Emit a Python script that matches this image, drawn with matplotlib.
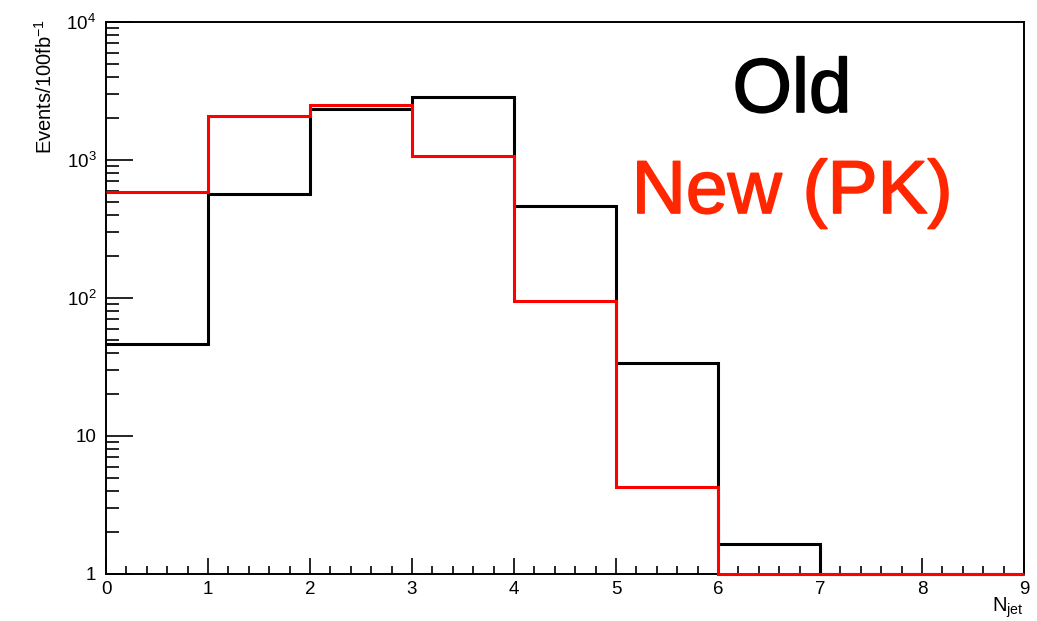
import numpy as np
import matplotlib
matplotlib.use("Agg")
import matplotlib.pyplot as plt
import matplotlib.patheffects as pe
from matplotlib.ticker import FixedLocator, FixedFormatter, MultipleLocator

plt.rcParams["font.family"] = ["Liberation Sans", "DejaVu Sans"]
plt.rcParams["mathtext.fontset"] = "custom"
plt.rcParams["mathtext.rm"] = "Liberation Sans"
plt.rcParams["mathtext.it"] = "Liberation Sans"
plt.rcParams["mathtext.default"] = "regular"

# Jet multiplicity histograms (events per 100 fb^-1)
bin_edges = np.arange(0, 10)
old_counts = [46.4, 567, 2342, 2846, 464, 33.6, 1.66, 0, 0]
new_counts = [583, 2083, 2490, 1069, 95, 4.27, 0, 0, 0]

y_ticks = [1, 10, 100, 1000, 10000]
y_tick_labels = ["1", "10", "10$^{2}$", "10$^{3}$", "10$^{4}$"]
x_ticks = list(range(0, 10))

ymin, ymax = 1, 1e4

W, H = 1037, 621
fig = plt.figure(figsize=(W / 100, H / 100), dpi=100)
ax = fig.add_axes([106 / W, 47 / H, (1024 - 106) / W, (574 - 22) / H])

ax.set_yscale("log")
ax.set_xlim(0, 9)
ax.set_ylim(ymin, ymax)

# empty bins sit on the lower edge of the log axis
ax.stairs(np.clip(old_counts, ymin, None), bin_edges, baseline=None,
          color="black", lw=2.2, clip_on=False, zorder=3)
ax.stairs(np.clip(new_counts, ymin, None), bin_edges, baseline=None,
          color="#ff0000", lw=2.2, clip_on=False, zorder=4)

for s in ax.spines.values():
    s.set_linewidth(1.4)

ax.xaxis.set_major_locator(FixedLocator(x_ticks))
ax.xaxis.set_minor_locator(MultipleLocator(0.2))
ax.yaxis.set_major_locator(FixedLocator(y_ticks))
ax.yaxis.set_major_formatter(FixedFormatter(y_tick_labels))
minor_y = [m * 10 ** e for e in range(0, 4) for m in range(2, 10)]
ax.yaxis.set_minor_locator(FixedLocator(minor_y))
ax.yaxis.set_minor_formatter(FixedFormatter([""] * len(minor_y)))

ax.tick_params(axis="x", which="major", direction="in", length=11.5, width=1.2,
               labelsize=13.5, pad=5, top=False)
ax.tick_params(axis="x", which="minor", direction="in", length=5.8, width=1.2,
               top=False)
ax.tick_params(axis="y", which="major", direction="in", length=19.5, width=1.2,
               labelsize=13.5, pad=7, right=False)
ax.tick_params(axis="y", which="minor", direction="in", length=9.5, width=1.2,
               right=False)

fig.text(45 / W, 1 - 19 / H, "Events/100fb$^{-1}$", rotation=90,
         ha="center", va="top", fontsize=14.5)
fig.text(1024 / W, 9 / H, "N$_{jet}$", ha="right", va="baseline", fontsize=14.5)

fig.text(792 / W, 1 - 112 / H, "Old", ha="center", va="baseline",
         fontsize=55, color="black",
         path_effects=[pe.withStroke(linewidth=1.2, foreground="black")])
fig.text(792 / W, 1 - 213 / H, "New (PK)", ha="center", va="baseline",
         fontsize=54, color="#ff2600",
         path_effects=[pe.withStroke(linewidth=1.2, foreground="#ff2600")])

fig.savefig("out.png", dpi=100)
